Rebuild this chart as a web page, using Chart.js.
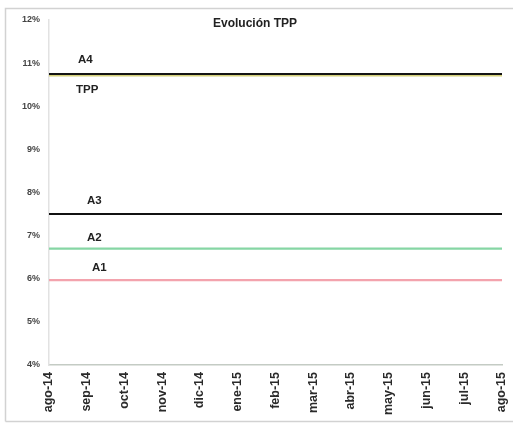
<!DOCTYPE html>
<html>
<head>
<meta charset="utf-8">
<script src="https://cdn.jsdelivr.net/npm/chart.js@4"></script>
<style>
html,body{margin:0;padding:0;background:#fff;}
canvas{display:block;}
</style>
</head>
<body>
<canvas id="c" width="513" height="424"></canvas>
<script>
const months = ['ago-14','sep-14','oct-14','nov-14','dic-14','ene-15','feb-15','mar-15','abr-15','may-15','jun-15','jul-15','ago-15'];
const seriesA4  = [10.75,10.75,10.75,10.75,10.75,10.75,10.75,10.75,10.75,10.75,10.75,10.75,10.75];
const seriesTPP = [10.72,10.72,10.72,10.72,10.72,10.72,10.72,10.72,10.72,10.72,10.72,10.72,10.72];
const seriesA3  = [7.5,7.5,7.5,7.5,7.5,7.5,7.5,7.5,7.5,7.5,7.5,7.5,7.5];
const seriesA2  = [6.7,6.7,6.7,6.7,6.7,6.7,6.7,6.7,6.7,6.7,6.7,6.7,6.7];
const seriesA1  = [5.97,5.97,5.97,5.97,5.97,5.97,5.97,5.97,5.97,5.97,5.97,5.97,5.97];
const yTicks = [4,5,6,7,8,9,10,11,12];
const chartTitle = 'Evolución TPP';

// label placement (pixels relative to first point of each series)
const seriesLabels = [
  {text:'A4',  data:seriesA4,  dx:39, dy:-14},
  {text:'TPP', data:seriesTPP, dx:37, dy:15},
  {text:'A3',  data:seriesA3,  dx:48, dy:-13},
  {text:'A2',  data:seriesA2,  dx:48, dy:-11},
  {text:'A1',  data:seriesA1,  dx:53, dy:-12}
];

const framePlugin = {
  id:'frame',
  beforeDraw(chart){
    const ctx = chart.ctx;
    ctx.save();
    ctx.fillStyle='#fff';
    ctx.fillRect(0,0,chart.width,chart.height);
    ctx.strokeStyle='#d2d2d2';
    ctx.lineWidth=1.5;
    ctx.beginPath();
    ctx.moveTo(5.5,421.5);
    ctx.lineTo(5.5,8.5);
    ctx.lineTo(513,8.5);
    ctx.moveTo(5.5,421.5);
    ctx.lineTo(513,421.5);
    ctx.stroke();
    ctx.restore();
  },
  afterDraw(chart){
    const ctx = chart.ctx;
    const xs = chart.scales.x, ys = chart.scales.y;
    ctx.save();
    ctx.fillStyle='#222';
    ctx.font='bold 12px "Liberation Sans", Arial, sans-serif';
    ctx.textAlign='center';
    ctx.textBaseline='middle';
    ctx.fillText(chartTitle, chart.chartArea.left + 206, 24);
    ctx.font='bold 11.5px "Liberation Sans", Arial, sans-serif';
    ctx.textAlign='left';
    seriesLabels.forEach(l=>{
      const x = xs.getPixelForValue(0) + l.dx - 10;
      const y = ys.getPixelForValue(l.data[0]) + l.dy;
      ctx.fillText(l.text, x, y);
    });
    ctx.restore();
  }
};

new Chart(document.getElementById('c'), {
  type:'line',
  data:{
    labels:months,
    datasets:[
      {label:'A4', data:seriesA4, borderColor:'#141414', borderWidth:2, pointRadius:0},
      {label:'TPP', data:seriesTPP, borderColor:'#d4d07a', borderWidth:2.5, pointRadius:0},
      {label:'A3', data:seriesA3, borderColor:'#111111', borderWidth:2, pointRadius:0},
      {label:'A2', data:seriesA2, borderColor:'#86d6a4', borderWidth:2.2, pointRadius:0},
      {label:'A1', data:seriesA1, borderColor:'#f3a3ad', borderWidth:2.2, pointRadius:0}
    ]
  },
  options:{
    responsive:false,
    animation:false,
    layout:{padding:{top:20,right:11,left:0,bottom:0}},
    plugins:{legend:{display:false}, title:{display:false}, tooltip:{enabled:false}},
    elements:{line:{tension:0}},
    scales:{
      x:{
        offset:false,
        grid:{display:false, drawTicks:false},
        border:{display:true, color:'#c4cbc4', width:1.5, dash:[6,3]},
        ticks:{
          minRotation:90, maxRotation:90, autoSkip:false, padding:7,
          color:'#2a2a2a',
          font:{family:'"Liberation Sans", Arial, sans-serif', size:12.5, weight:'bold'}
        },
        afterFit(s){ s.height = 59; s.paddingLeft = 0; s.paddingRight = 0; }
      },
      y:{
        min:4, max:12,
        afterBuildTicks(s){ s.ticks = yTicks.map(v=>({value:v})); },
        grid:{display:false, drawTicks:false},
        border:{display:true, color:'#e2e2e2', width:1.5},
        ticks:{
          padding:9, color:'#444',
          font:{family:'"Liberation Sans", Arial, sans-serif', size:9, weight:'bold'},
          callback:(v)=>v+'%'
        },
        afterFit(s){ s.width = 49; s.paddingTop = 0; s.paddingBottom = 0; }
      }
    }
  },
  plugins:[framePlugin]
});
</script>
</body>
</html>
